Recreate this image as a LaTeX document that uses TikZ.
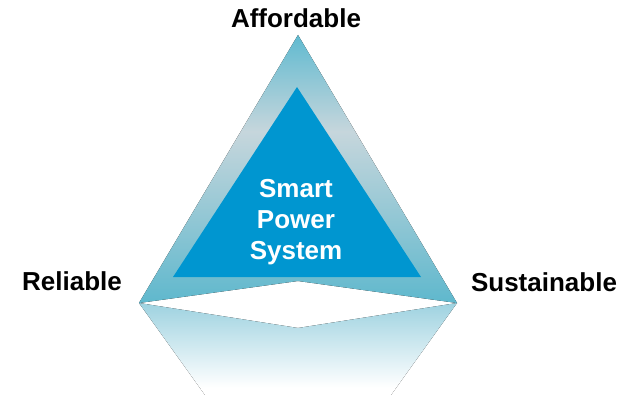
\documentclass[tikz,border=0pt]{standalone}
\usepackage{fontspec}
\setmainfont{Liberation Sans}
\definecolor{tealtop}{RGB}{96,186,208}
\definecolor{tealmid}{RGB}{198,214,220}
\definecolor{tealbot}{RGB}{95,184,205}
\definecolor{coreblue}{RGB}{0,150,208}
\definecolor{glow}{RGB}{158,210,224}
\pgfdeclareverticalshading{prism}{100bp}{color(0bp)=(tealbot); color(25bp)=(tealbot); color(57bp)=(tealmid); color(75bp)=(tealtop); color(100bp)=(tealtop)}
\pgfdeclareverticalshading{mirror}{100bp}{color(0bp)=(white); color(29bp)=(white); color(75bp)=(glow); color(100bp)=(glow)}
\begin{document}
\begin{tikzpicture}[x=1pt, y=-1pt,
    corner label/.style={font=\fontsize{26}{31}\selectfont\bfseries, inner sep=0pt, anchor=base}]
    \useasboundingbox (0,0) rectangle (634,395);

    % outer prism and its reflection
    \coordinate (apex) at (298,35);
    \coordinate (left) at (139,303);
    \coordinate (right) at (457,303);
    \coordinate (notch) at (298,281);
    \coordinate (dip) at (298,328);
    \coordinate (fadeL) at (205,395);
    \coordinate (fadeR) at (391,395);
    \fill [shading=mirror] (left) -- (dip) -- (right) -- (fadeR) -- (fadeL) -- cycle;
    \fill [shading=prism] (apex) -- (right) -- (notch) -- (left) -- cycle;

    % inner core
    \coordinate (top) at (297,87);
    \coordinate (baseL) at (173,277);
    \coordinate (baseR) at (421,277);
    \fill [coreblue] (top) -- (baseR) -- (baseL) -- cycle;
    \node (core) [text=white, align=center, font=\fontsize{26}{31}\selectfont\bfseries, inner sep=0pt] at (296,222) {Smart\\Power\\System};

    \node (afford) [corner label] at (296,28) {Affordable};
    \node (reliable) [corner label] at (72,290) {Reliable};
    \node (sustain) [corner label] at (544,291) {Sustainable};
\end{tikzpicture}
\end{document}
